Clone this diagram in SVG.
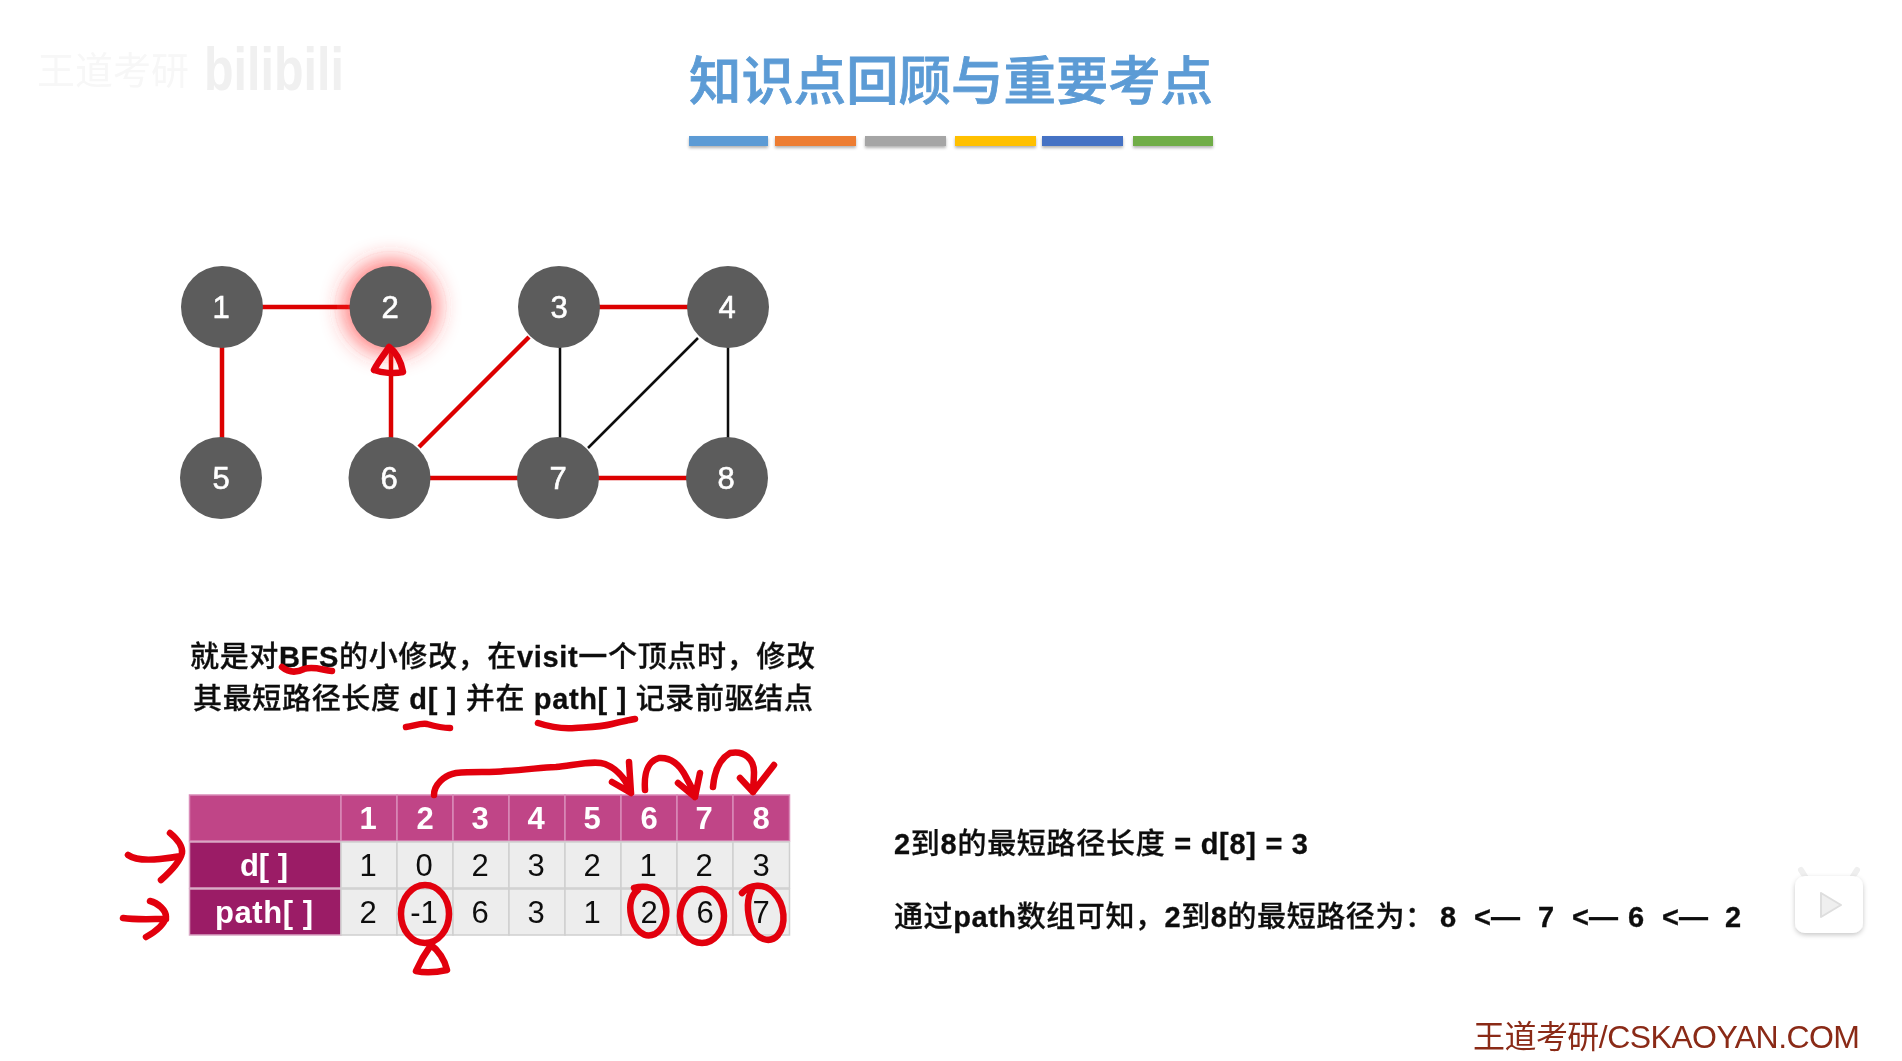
<svg xmlns="http://www.w3.org/2000/svg" width="1902" height="1061" viewBox="0 0 1902 1061">
<defs>
<filter id="glow" x="-60%" y="-60%" width="220%" height="220%"><feGaussianBlur stdDeviation="12"/></filter>
<filter id="soft" x="0" y="0" width="100%" height="100%" filterUnits="userSpaceOnUse"><feGaussianBlur stdDeviation="0.55"/></filter>
<filter id="barshadow" x="-5%" y="-30%" width="110%" height="180%"><feDropShadow dx="0" dy="2" stdDeviation="1.5" flood-color="#000" flood-opacity="0.3"/></filter>
<filter id="iconshadow" x="-30%" y="-30%" width="160%" height="160%"><feDropShadow dx="0" dy="2" stdDeviation="2.5" flood-color="#000" flood-opacity="0.22"/></filter>
</defs>
<style>
text{font-family:"Liberation Sans","Noto Sans CJK SC",sans-serif}
.node{fill:#5c5c5c}
.nt{fill:#fff;font-size:31px;text-anchor:middle;font-weight:400;stroke:#fff;stroke-width:.6}
.red{stroke:#dc0000;stroke-width:4.5;fill:none}
.blk{stroke:#111;stroke-width:2.5;fill:none}
.ink{stroke:#e2000f;stroke-width:6.5;fill:none;stroke-linecap:round;stroke-linejoin:round}
.cell{fill:#ededed;stroke:#cfcfcf;stroke-width:1.5}
.hd{fill:#c04487;stroke:#d98bb8;stroke-width:1.5}
.lb{fill:#9b1c66;stroke:#d9a6c4;stroke-width:1.5}
.hdt{fill:#fff;font-size:31px;font-weight:700;text-anchor:middle}
.ct{fill:#111;font-size:31px;text-anchor:middle}
.body{fill:#111;font-size:29px;font-weight:500;stroke:#111;stroke-width:.3}
.b{font-weight:700}
</style>
<rect width="1902" height="1061" fill="#fff"/>
<g filter="url(#soft)">

<g id="watermark-top">
<text x="37" y="84" font-size="38" fill="#f7f7f7">王道考研</text>
<text x="204" y="90" font-size="62" font-weight="700" fill="#f0f0f0" textLength="140" lengthAdjust="spacingAndGlyphs">bilibili</text>
</g>

<g id="title">
<text x="689" y="100" font-size="52.4" font-weight="500" fill="#5b9bd5" stroke="#5b9bd5" stroke-width=".8" style="font-family:'Noto Sans CJK SC',sans-serif" textLength="524">知识点回顾与重要考点</text>
<g id="title-bars" filter="url(#barshadow)">
<rect x="689" y="136" width="79" height="10" fill="#5b9bd5"/>
<rect x="775" y="136" width="81" height="10" fill="#ed7d31"/>
<rect x="865" y="136" width="81" height="10" fill="#a5a5a5"/>
<rect x="955" y="136" width="81" height="10" fill="#ffc000"/>
<rect x="1042" y="136" width="81" height="10" fill="#4472c4"/>
<rect x="1133" y="136" width="80" height="10" fill="#70ad47"/>
</g>
</g>

<g id="connectors">
<line class="red" x1="262" y1="307" x2="350" y2="307"/>
<line class="red" x1="222" y1="347" x2="222" y2="438"/>
<line class="red" x1="391" y1="347" x2="391" y2="438"/>
<line class="red" x1="419" y1="447" x2="529" y2="337"/>
<line class="red" x1="599" y1="307" x2="688" y2="307"/>
<line class="red" x1="430" y1="478" x2="518" y2="478"/>
<line class="red" x1="598" y1="478" x2="687" y2="478"/>
<line class="blk" x1="560" y1="347" x2="560" y2="438"/>
<line class="blk" x1="728" y1="347" x2="728" y2="438"/>
<line class="blk" x1="588" y1="448" x2="698" y2="338"/>
</g>

<circle cx="390.5" cy="307" r="46" fill="#ff2a2a" opacity=".7" filter="url(#glow)"/>

<g id="node-1"><circle class="node" cx="222" cy="307" r="41"/><text class="nt" x="221" y="318">1</text></g>
<g id="node-2"><circle class="node" cx="390.5" cy="307" r="41"/><text class="nt" x="390" y="318">2</text></g>
<g id="node-3"><circle class="node" cx="559" cy="307" r="41"/><text class="nt" x="559" y="318">3</text></g>
<g id="node-4"><circle class="node" cx="728" cy="307" r="41"/><text class="nt" x="727" y="318">4</text></g>
<g id="node-5"><circle class="node" cx="221" cy="478" r="41"/><text class="nt" x="221" y="489">5</text></g>
<g id="node-6"><circle class="node" cx="389.5" cy="478" r="41"/><text class="nt" x="389" y="489">6</text></g>
<g id="node-7"><circle class="node" cx="558" cy="478" r="41"/><text class="nt" x="558" y="489">7</text></g>
<g id="node-8"><circle class="node" cx="727" cy="478" r="41"/><text class="nt" x="726" y="489">8</text></g>

<g id="note">
<text class="body" x="190" y="667" textLength="625">就是对<tspan class="b">BFS</tspan>的小修改，在<tspan class="b">visit</tspan>一个顶点时，修改</text>
<text class="body" x="193" y="709" textLength="620">其最短路径长度 <tspan class="b">d[ ]</tspan> 并在 <tspan class="b">path[ ]</tspan> 记录前驱结点</text>
</g>

<g id="table">
<rect class="hd" x="189.5" y="795" width="151.5" height="46"/>
<rect class="hd" x="341" y="795" width="56" height="46"/><rect class="hd" x="397" y="795" width="56" height="46"/><rect class="hd" x="453" y="795" width="56" height="46"/><rect class="hd" x="509" y="795" width="56" height="46"/><rect class="hd" x="565" y="795" width="56" height="46"/><rect class="hd" x="621" y="795" width="56" height="46"/><rect class="hd" x="677" y="795" width="56" height="46"/><rect class="hd" x="733" y="795" width="56.5" height="46"/>
<rect class="lb" x="189.5" y="842" width="151.5" height="46"/><rect class="lb" x="189.5" y="889" width="151.5" height="46"/>
<rect class="cell" x="341" y="842" width="56" height="46"/><rect class="cell" x="397" y="842" width="56" height="46"/><rect class="cell" x="453" y="842" width="56" height="46"/><rect class="cell" x="509" y="842" width="56" height="46"/><rect class="cell" x="565" y="842" width="56" height="46"/><rect class="cell" x="621" y="842" width="56" height="46"/><rect class="cell" x="677" y="842" width="56" height="46"/><rect class="cell" x="733" y="842" width="56.5" height="46"/>
<rect class="cell" x="341" y="889" width="56" height="46"/><rect class="cell" x="397" y="889" width="56" height="46"/><rect class="cell" x="453" y="889" width="56" height="46"/><rect class="cell" x="509" y="889" width="56" height="46"/><rect class="cell" x="565" y="889" width="56" height="46"/><rect class="cell" x="621" y="889" width="56" height="46"/><rect class="cell" x="677" y="889" width="56" height="46"/><rect class="cell" x="733" y="889" width="56.5" height="46"/>
<text class="hdt" x="368" y="829">1</text><text class="hdt" x="425" y="829">2</text><text class="hdt" x="480" y="829">3</text><text class="hdt" x="536" y="829">4</text><text class="hdt" x="592" y="829">5</text><text class="hdt" x="649" y="829">6</text><text class="hdt" x="704" y="829">7</text><text class="hdt" x="761" y="829">8</text>
<text class="hdt" x="264" y="876">d[ ]</text><text class="hdt" x="264" y="923" textLength="98">path[ ]</text>
<text class="ct" x="368" y="876">1</text><text class="ct" x="424" y="876">0</text><text class="ct" x="480" y="876">2</text><text class="ct" x="536" y="876">3</text><text class="ct" x="592" y="876">2</text><text class="ct" x="648" y="876">1</text><text class="ct" x="704" y="876">2</text><text class="ct" x="761" y="876">3</text>
<text class="ct" x="368" y="923">2</text><text class="ct" x="424" y="923">-1</text><text class="ct" x="480" y="923">6</text><text class="ct" x="536" y="923">3</text><text class="ct" x="592" y="923">1</text><text class="ct" x="649" y="923">2</text><text class="ct" x="705" y="923">6</text><text class="ct" x="761" y="923">7</text>
</g>

<g id="result">
<text class="body" x="894" y="854" textLength="414"><tspan class="b">2</tspan>到<tspan class="b">8</tspan>的最短路径长度 <tspan class="b">= d[8] = 3</tspan></text>
<text class="body" x="894" y="927" textLength="540">通过<tspan class="b">path</tspan>数组可知，<tspan class="b">2</tspan>到<tspan class="b">8</tspan>的最短路径为：</text>
<text class="body b" x="1440" y="927">8</text>
<text class="body b" x="1474" y="927">&lt;—</text>
<text class="body b" x="1538" y="927">7</text>
<text class="body b" x="1572" y="927">&lt;—</text>
<text class="body b" x="1628" y="927">6</text>
<text class="body b" x="1662" y="927">&lt;—</text>
<text class="body b" x="1725" y="927">2</text>
</g>

<g id="ink">
<path class="ink" d="M389 347C384 355 378 362 374 370C382 373 394 374 403 372C401 362 396 352 389 347Z"/>
<path class="ink" d="M282 667C288 672 296 673 304 669C314 666 322 670 332 671"/>
<path class="ink" d="M406 727C414 726 420 723 427 724C434 726 442 728 450 728"/>
<path class="ink" d="M538 723C550 727 562 729 575 728C590 727 600 727 612 724C620 722 628 720 635 719"/>
<path class="ink" d="M434 795C434 785 444 775 456 773C475 771 490 773 505 771C530 770 540 767 556 767C575 765 595 760 605 764C620 770 627 782 631 793M612 782L631 793L629 762"/>
<path class="ink" d="M645 790C644 775 646 762 659 758C672 757 680 765 686 777C690 785 694 790 695 797M678 783L695 797L700 773"/>
<path class="ink" d="M713 787C714 775 718 760 730 753C745 750 754 760 754 772C754 780 753 786 753 792M740 778L753 792L774 765"/>
<path class="ink" d="M128 855C135 860 150 860 160 859C170 858 176 857 181 856M170 833C176 838 183 845 182 853C180 862 170 872 161 880"/>
<path class="ink" d="M123 918C135 920 152 919 166 919M150 901C158 903 166 910 166 917C164 925 155 932 146 937"/>
<ellipse class="ink" cx="425" cy="914" rx="24" ry="29"/>
<path class="ink" d="M431 945C426 952 420 962 416 971C425 973 438 972 447 970C445 960 438 950 431 945Z"/>
<path class="ink" d="M634 888C646 885 658 888 663 898C670 912 665 928 655 934C644 939 634 930 631 915C629 905 631 895 638 890"/>
<ellipse class="ink" cx="702" cy="916" rx="22" ry="27"/>
<path class="ink" d="M742 893C750 884 764 883 773 892C786 905 786 925 778 935C770 944 756 940 751 925C747 912 746 900 752 889"/>
</g>

<g id="play-icon">
<path d="M1806 878L1801 870M1852 878L1857 870" stroke="#efefef" stroke-width="6" stroke-linecap="round"/>
<rect x="1795" y="876" width="68" height="57" rx="10" fill="#fff" filter="url(#iconshadow)"/>
<path d="M1821 893L1821 917L1841 905Z" fill="#efefef" stroke="#dedede" stroke-width="2" stroke-linejoin="round"/>
</g>

<g id="footer">
<text x="1473" y="1048" font-size="32" fill="#8a2a18" textLength="387">王道考研/CSKAOYAN.COM</text>
</g>
</g>
</svg>
